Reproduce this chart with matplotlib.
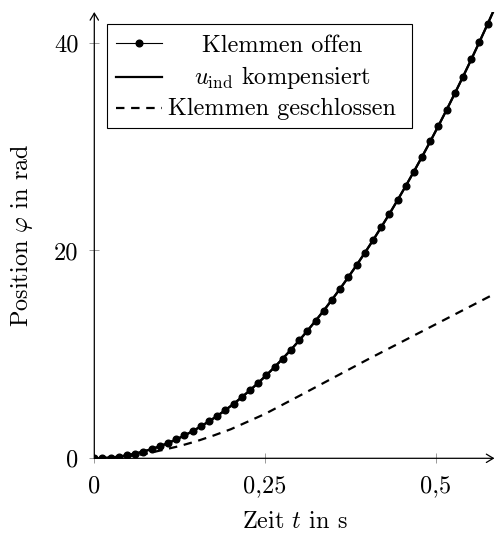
"""Position over time for three terminal configurations (pgfplots look-alike)."""

import matplotlib

matplotlib.use("Agg")
import matplotlib.pyplot as plt
from matplotlib.lines import Line2D
from matplotlib.patches import Rectangle

plt.rcParams["font.family"] = "serif"
plt.rcParams["font.serif"] = ["cmr10", "DejaVu Serif"]
plt.rcParams["mathtext.fontset"] = "cm"
plt.rcParams["axes.formatter.use_mathtext"] = True

# Samples of the open-terminal run (dots every 12 ms).
t_open = [0.012 * k for k in range(50)]
phi_open = [
    0.0, 0.02, 0.07, 0.16, 0.29, 0.45, 0.65, 0.89, 1.16, 1.47,
    1.81, 2.20, 2.61, 3.07, 3.56, 4.08, 4.64, 5.24, 5.88, 6.55,
    7.26, 8.00, 8.78, 9.60, 10.45, 11.34, 12.27, 13.23, 14.22, 15.26,
    16.33, 17.44, 18.58, 19.76, 20.97, 22.23, 23.51, 24.84, 26.20, 27.60,
    29.03, 30.50, 32.01, 33.55, 35.13, 36.74, 38.39, 40.08, 41.80, 43.56,
]

# Compensated run lies on top of the open-terminal run.
t_comp = t_open
phi_comp = phi_open

# Short-circuited terminals.
t_closed = [0.0, 0.025, 0.05, 0.075, 0.1, 0.125, 0.15, 0.175, 0.2,
            0.25, 0.3, 0.35, 0.4, 0.45, 0.5, 0.55, 0.6]
phi_closed = [0.0, 0.05, 0.2, 0.43, 0.8, 1.18, 1.65, 2.2, 2.8,
              4.27, 6.0, 7.75, 9.5, 11.2, 12.9, 14.6, 16.3]

x_ticks = [0, 0.25, 0.5]
x_ticklabels = ["0", "0,25", "0,5"]
y_ticks = [0, 20, 40]
y_ticklabels = ["0", "20", "40"]

labels = ["Klemmen offen", r"$u_{\mathrm{ind}}$ kompensiert", "Klemmen geschlossen"]

FS = 17.5
LW = 1.6
DASH = (0, (3.8, 3.0))

W, H = 497, 536
fig = plt.figure(figsize=(W / 100, H / 100), dpi=100)
ax = fig.add_axes([94.3 / W, (H - 458.3) / H, 400.2 / W, 446.3 / H])

ax.plot(t_closed, phi_closed, color="black", lw=LW, ls=DASH,
        dash_capstyle="butt")
ax.plot(t_comp, phi_comp, color="black", lw=LW)
ax.plot(t_open, phi_open, color="black", lw=LW, marker="o", ms=4.8)

ax.set_xlim(0, 0.586)
ax.set_ylim(0, 42.95)

ax.set_xticks(x_ticks)
ax.set_xticklabels(x_ticklabels)
ax.set_yticks(y_ticks)
ax.set_yticklabels(y_ticklabels)
ax.tick_params(direction="inout", length=7.5, width=0.7, color="#999999",
               labelsize=FS)
ax.tick_params(axis="x", pad=8.5)
ax.tick_params(axis="y", pad=7.5)

ax.set_xlabel(r"Zeit $t$ in s", fontsize=FS, labelpad=10)
ax.set_ylabel(r"Position $\varphi$ in rad", fontsize=FS, labelpad=13.5)

# axis lines with arrow tips instead of spines
for side in ("top", "right", "left", "bottom"):
    ax.spines[side].set_visible(False)
arrow = dict(arrowstyle="->,head_length=0.5,head_width=0.3", lw=0.9,
             color="black", shrinkA=0, shrinkB=0)
ax.annotate("", xy=(1.0, 0), xytext=(0, 0), xycoords="axes fraction",
            textcoords="axes fraction", arrowprops=arrow, annotation_clip=False)
ax.annotate("", xy=(0, 1.0), xytext=(0, 0), xycoords="axes fraction",
            textcoords="axes fraction", arrowprops=arrow, annotation_clip=False)

# legend box with centred entries, pgfplots style
tr = ax.transAxes
ax.add_patch(Rectangle((0.031, 0.739), 0.762, 0.234, transform=tr,
                       facecolor="white", edgecolor="black", lw=0.8, zorder=5))
rows_line = [0.930, 0.854, 0.784]
rows_text = [0.910, 0.839, 0.770]
styles = [
    dict(ls="-", marker="o", ms=4.8, markevery=[1], lw=0.8),
    dict(ls="-", lw=LW),
    dict(ls=DASH, lw=LW, dash_capstyle="butt"),
]
for y_line, y_text, style, label in zip(rows_line, rows_text, styles, labels):
    ax.add_line(Line2D([0.054, 0.1115, 0.169], [y_line] * 3, transform=tr,
                       color="black", zorder=6, **style))
    ax.text(0.469, y_text, label, transform=tr, ha="center", va="baseline",
            fontsize=FS, zorder=6)

fig.savefig("out.png", dpi=100)
